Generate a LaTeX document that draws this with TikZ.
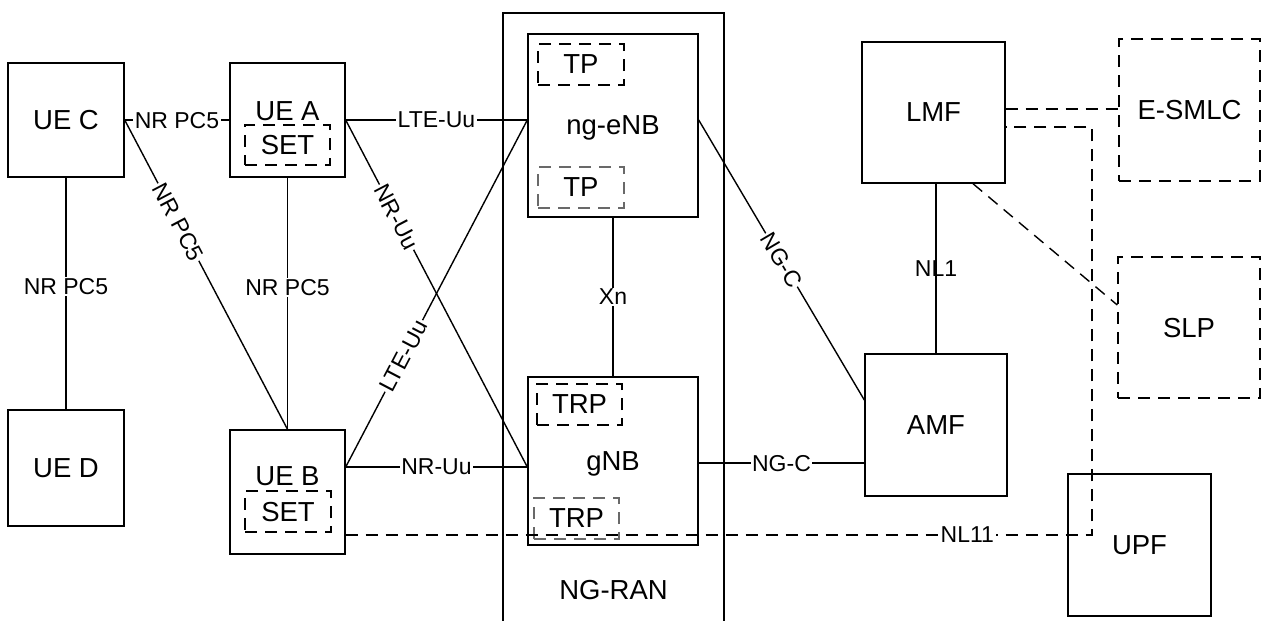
\documentclass[tikz,border=0pt]{standalone}
\usepackage{fontspec}
\setmainfont{Liberation Sans}
\usetikzlibrary{calc}
\newcommand\bxfont{\fontsize{27.5}{30}\selectfont}
\newcommand\lbfont{\fontsize{23}{26}\selectfont}
\definecolor{tpgray}{RGB}{105,105,105}
\begin{document}
\begin{tikzpicture}[x=1pt,y=-1pt,line width=1.4pt,
  box/.style={draw,inner sep=0pt,font=\bxfont,text depth=0pt},
  txt/.style={inner sep=0pt,font=\bxfont,text depth=0pt},
  lab/.style={fill=white,inner sep=1.5pt,font=\lbfont,text depth=0pt},
  dsh/.style={dash pattern=on 12pt off 8pt},
  gdsh/.style={dsh,draw=tpgray}]
\useasboundingbox (0,0) rectangle (1262,621);

% NG-RAN frame
\draw (503,621) |- (724,13) -- (724,621);
\node[txt] (ngran) at (613.5,590) {NG-RAN};

% UEs
\node[box,minimum width=116pt,minimum height=114pt] (ueC) at (66,120) {UE C};
\node[box,minimum width=116pt,minimum height=116pt] (ueD) at (66,468) {UE D};
\node[box,minimum width=115pt,minimum height=114pt] (ueA) at (287.5,120) {};
\node[txt] (ueAt) at (287.5,111) {UE A};
\node[box,dsh,minimum width=85pt,minimum height=40pt] (setA) at (287.5,145) {SET};
\node[box,minimum width=115pt,minimum height=124pt] (ueB) at (287.5,492) {};
\node[txt] (ueBt) at (287.5,476) {UE B};
\node[box,dsh,minimum width=86pt,minimum height=41pt] (setB) at (288,511.5) {SET};

% RAN nodes
\node[box,minimum width=170pt,minimum height=183pt] (ngenb) at (613,125.5) {ng-eNB};
\node[box,dsh,minimum width=86pt,minimum height=41pt] (tp1) at (581,64.5) {TP};
\node[box,gdsh,minimum width=86pt,minimum height=41pt] (tp2) at (581,187.5) {TP};
\node[box,minimum width=170pt,minimum height=168pt] (gnb) at (613,461) {gNB};
\node[box,dsh,minimum width=85pt,minimum height=41pt] (trp1) at (579.5,404.5) {TRP};
\node[box,gdsh,minimum width=85pt,minimum height=41pt] (trp2) at (576.5,518.5) {TRP};

% Core
\node[box,minimum width=143pt,minimum height=141pt] (lmf) at (933.5,112.5) {LMF};
\node[box,dsh,minimum width=141pt,minimum height=142pt] (esmlc) at (1189.5,110) {E-SMLC};
\node[box,dsh,minimum width=142pt,minimum height=141pt] (slp) at (1189,327.5) {SLP};
\node[box,minimum width=142pt,minimum height=142pt] (amf) at (936,425) {AMF};
\node[box,minimum width=143pt,minimum height=142pt] (upf) at (1139.5,545) {UPF};

% sidelink connectors
\draw (ueC.east) -- node[lab] {NR PC5} (ueA.west);
\draw (ueC.south) -- node[lab,pos=0.47] {NR PC5} (ueD.north);
\draw (ueA.south) -- node[lab,pos=0.435] {NR PC5} (ueB.north);
\draw (ueC.east) -- node[lab,sloped,pos=0.33] {NR PC5} (ueB.north);

% Uu connectors
\coordinate (enbin) at (ngenb.west |- ueA.east);
\coordinate (ubout) at ([yshift=25pt]ueB.east);
\coordinate (gnbin) at ([yshift=-6pt]gnb.west);
\draw (ueA.east) -- node[lab] {LTE-Uu} (enbin);
\draw (ueA.east) -- node[lab,sloped,pos=0.28] {NR-Uu} (gnbin);
\draw (ubout) -- node[lab,sloped,pos=0.32] {LTE-Uu} (enbin);
\draw (ubout) -- node[lab] {NR-Uu} (gnbin);

% RAN / core connectors
\coordinate (enbout) at (ngenb.east |- ueA.east);
\coordinate (gnbout) at ([yshift=-2pt]gnb.east);
\coordinate (lmfe1) at ([yshift=3.5pt]lmf.east);
\draw (ngenb.south) -- node[lab] {Xn} (gnb.north);
\draw (enbout) -- node[lab,sloped] {NG-C} ([yshift=25pt]amf.west);
\draw (gnbout) -- node[lab] {NG-C} (amf.west |- gnbout);
\draw[line width=2pt] (amf.north |- lmf.south) -- node[inner sep=0.5pt,font=\lbfont,text depth=0pt] {NL1} (amf.north);

% dashed connectors
\draw[dsh] (lmfe1) -- (esmlc.west |- lmfe1);
\draw[dsh] ([xshift=39.5pt]lmf.south) -- ([yshift=22.5pt]slp.west);
\coordinate (nlturn) at (1092,535);
\draw[dsh] ([yshift=-43pt]ueB.east) -- node[lab,pos=0.833] {NL11} (nlturn) |- ([yshift=-14.5pt]lmf.east);
\end{tikzpicture}
\end{document}
